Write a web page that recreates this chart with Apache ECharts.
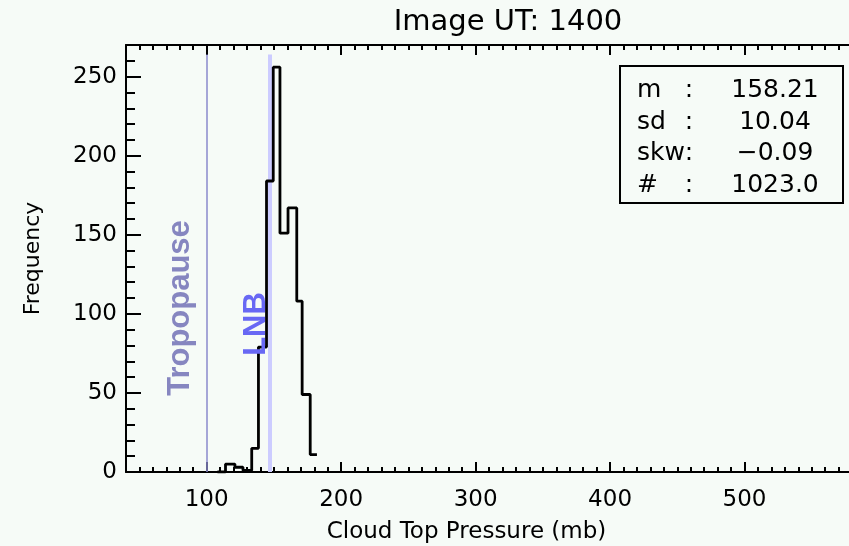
<!DOCTYPE html>
<html><head><meta charset="utf-8">
<script src="https://cdn.jsdelivr.net/npm/echarts@6/dist/echarts.min.js"></script>
<style>html,body{margin:0;padding:0;background:#f6fbf7;}#c{width:849px;height:546px;}</style>
</head><body><div id="c"></div>
<script>
// ---- data ----
const titleText = 'Image UT: 1400';
const xAxisName = 'Cloud Top Pressure (mb)';
const yAxisName = 'Frequency';
const xMin = 40, xMax = 600;
const yMin = 0, yMax = 270;
const xTickLabels = [100, 200, 300, 400, 500];
const xMajorTicks = [100, 200, 300, 400, 500, 600];
const yTickLabels = [0, 50, 100, 150, 200, 250];
// histogram step edges (mb) and counts in each step
const histEdges  = [108, 114, 121, 127, 133.5, 138.5, 144.5, 149.5, 154.5, 160.5, 167, 171, 177, 182];
const histCounts = [0,   5,   3,   1,   15,    79,    184,   256,   151,   167,   108, 49,  11,  11];
const tropopausePressure = 100;
const lnbPressure = 147;
const refLineTop = 264;
const statNames  = ['m', 'sd', 'skw', '#'];
const statValues = ['158.21', '10.04', '\u22120.09', '1023.0'];

// ---- chart ----
const FONT = 'DejaVu Sans';
const chart = echarts.init(document.getElementById('c'), null, {renderer: 'canvas'});
const lineBlack = {color: '#000', width: 2};

function xAxisCfg(pos, major, labels) {
  return {
    type: 'value', position: pos, min: xMin, max: xMax,
    interval: major ? undefined : 10,
    axisLine: {show: !major, onZero: false, lineStyle: lineBlack},
    axisTick: major
      ? {show: true, inside: true, length: 10, customValues: xMajorTicks, lineStyle: {color: '#000', width: 2}}
      : {show: true, inside: true, length: 5, lineStyle: {color: '#000', width: 2}},
    axisLabel: labels
      ? {show: true, customValues: xTickLabels, color: '#000', fontFamily: FONT, fontSize: 23, margin: 17}
      : {show: false},
    splitLine: {show: false},
    name: labels ? xAxisName : '',
    nameLocation: 'middle', nameGap: 49,
    nameTextStyle: {color: '#000', fontFamily: FONT, fontSize: 23, padding: [0, 72, 0, 0]}
  };
}
function yAxisCfg(major, labels) {
  return {
    type: 'value', position: 'left', min: yMin, max: yMax,
    interval: major ? undefined : 10,
    axisLine: {show: !major, onZero: false, lineStyle: lineBlack},
    axisTick: major
      ? {show: true, inside: true, length: 15, customValues: yTickLabels, lineStyle: {color: '#000', width: 2}}
      : {show: true, inside: true, length: 9, lineStyle: {color: '#000', width: 2}},
    axisLabel: labels
      ? {show: true, customValues: yTickLabels, color: '#000', fontFamily: FONT, fontSize: 23, margin: 9}
      : {show: false},
    splitLine: {show: false},
    name: labels ? yAxisName : '',
    nameLocation: 'middle', nameGap: 82, nameRotate: 90,
    nameTextStyle: {color: '#000', fontFamily: FONT, fontSize: 22}
  };
}

const histData = histEdges.map((x, i) => [x, histCounts[i]]);

const graphics = [
  {type: 'rect', shape: {x: 620, y: 66, width: 223, height: 137},
   style: {fill: 'none', stroke: '#000', lineWidth: 2}, z: 10},
  {type: 'text', x: 180, y: 308, rotation: Math.PI / 2,
   style: {text: 'Tropopause', fill: '#8686c0', font: 'bold 31px "Liberation Sans"', textAlign: 'center', textVerticalAlign: 'middle'}, z: 10},
  {type: 'text', x: 256, y: 324, rotation: Math.PI / 2,
   style: {text: 'LNB', fill: '#6868f4', font: 'bold 31px "Liberation Sans"', textAlign: 'center', textVerticalAlign: 'middle'}, z: 10}
];
const statY = [90, 122, 153, 185];
const statFont = '25px "' + FONT + '"';
statNames.forEach((n, i) => {
  graphics.push({type: 'text', x: 637, y: statY[i],
    style: {text: n, fill: '#000', font: statFont, textAlign: 'left', textVerticalAlign: 'middle'}, z: 10});
  graphics.push({type: 'text', x: 689, y: statY[i],
    style: {text: ':', fill: '#000', font: statFont, textAlign: 'center', textVerticalAlign: 'middle'}, z: 10});
  graphics.push({type: 'text', x: 775, y: statY[i],
    style: {text: statValues[i], fill: '#000', font: statFont, textAlign: 'center', textVerticalAlign: 'middle'}, z: 10});
});

chart.setOption({
  backgroundColor: '#f6fbf7',
  animation: false,
  title: {text: titleText, left: 503, top: 3, textAlign: 'center',
    textStyle: {color: '#000', fontFamily: FONT, fontSize: 29, fontWeight: 'normal'}},
  grid: {left: 126, top: 45, right: -30, bottom: 74, containLabel: false, outerBoundsMode: 'none'},
  xAxis: [xAxisCfg('bottom', false, true), xAxisCfg('bottom', true, false),
          xAxisCfg('top', false, false), xAxisCfg('top', true, false)],
  yAxis: [yAxisCfg(false, true), yAxisCfg(true, false)],
  series: [{
    type: 'line', xAxisIndex: 0, yAxisIndex: 0, step: 'end', data: histData,
    symbol: 'none', lineStyle: {color: '#000', width: 2.8}, z: 5,
    markLine: {
      silent: true, symbol: 'none', label: {show: false}, z: 3,
      data: [
        [{coord: [tropopausePressure, yMin], lineStyle: {color: '#8a8acc', width: 1.5, type: 'solid'}},
         {coord: [tropopausePressure, refLineTop]}],
        [{coord: [lnbPressure, yMin], lineStyle: {color: '#ccccff', width: 4, type: 'solid'}},
         {coord: [lnbPressure, refLineTop]}]
      ]
    }
  }],
  graphic: graphics
});
</script></body></html>
